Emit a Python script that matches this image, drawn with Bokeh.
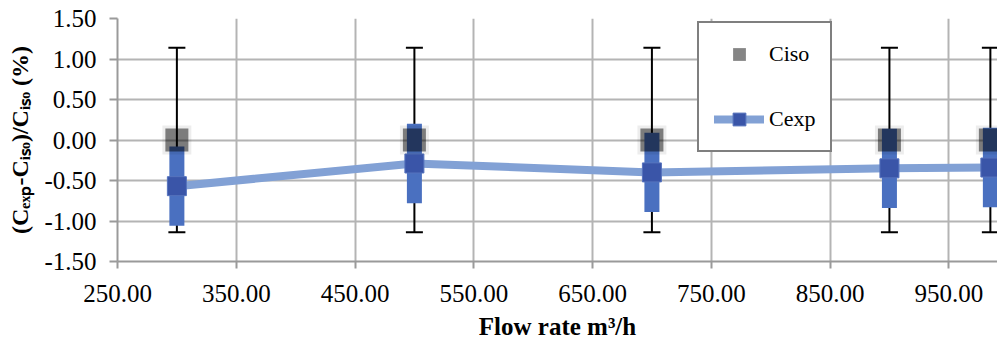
from bokeh.plotting import figure
from bokeh.models import Range1d, FixedTicker, PrintfTickFormatter, Legend, LegendItem
from bokeh.embed import file_html
from bokeh.resources import INLINE

# ---- data ----
flow = [300, 500, 700, 900, 985]
ciso = [0.00, 0.00, 0.00, 0.00, 0.00]
ciso_err = [1.14, 1.14, 1.14, 1.14, 1.14]
cexp = [-0.57, -0.29, -0.40, -0.35, -0.34]
cexp_err = [0.49, 0.49, 0.49, 0.49, 0.49]
x_ticks = [250, 350, 450, 550, 650, 750, 850, 950]
y_ticks = [-1.5, -1.0, -0.5, 0.0, 0.5, 1.0, 1.5]

FONT = "Liberation Serif"

p = figure(width=997, height=342, x_range=Range1d(250, 991), y_range=Range1d(-1.5, 1.5),
           output_backend="svg", toolbar_location=None,
           min_border_left=117, min_border_right=0, min_border_top=18, min_border_bottom=79)
p.outline_line_color = None
p.background_fill_color = "white"

for g in (p.xgrid, p.ygrid):
    g.grid_line_color = "#b4b4b4"
    g.grid_line_width = 2
p.xgrid.ticker = FixedTicker(ticks=x_ticks)
p.ygrid.ticker = FixedTicker(ticks=y_ticks)

for ax in (p.xaxis, p.yaxis):
    ax.axis_line_color = "#9a9a9a"
    ax.axis_line_width = 2
    ax.major_tick_line_color = "#9a9a9a"
    ax.major_tick_line_width = 2
    ax.minor_tick_line_color = None
    ax.major_tick_in = 0
    ax.formatter = PrintfTickFormatter(format="%.2f")
    ax.major_label_text_font = FONT
    ax.major_label_text_font_size = "25px"
    ax.major_label_text_color = "black"
    ax.axis_label_text_font = FONT
    ax.axis_label_text_font_style = "bold"
    ax.axis_label_text_font_size = "25px"
    ax.axis_label_text_color = "black"

p.xaxis.ticker = FixedTicker(ticks=x_ticks)
p.yaxis.ticker = FixedTicker(ticks=y_ticks)
p.xaxis.major_tick_out = 7
p.yaxis.major_tick_out = 8
p.xaxis.major_label_standoff = 16
p.yaxis.major_label_standoff = 13
p.xaxis.axis_label = "Flow rate m³/h"
p.yaxis.axis_label = "(Cₑₓₚ-Cᵢₛₒ)/Cᵢₛₒ (%)"
p.yaxis.axis_label_text_font_size = "24px"
p.xaxis.axis_label_standoff = 8
p.yaxis.axis_label_standoff = 8

# Ciso error bars (black whiskers)
lo_iso = [c - e for c, e in zip(ciso, ciso_err)]
hi_iso = [c + e for c, e in zip(ciso, ciso_err)]
p.segment(x0=flow, y0=lo_iso, x1=flow, y1=hi_iso, line_color="black", line_width=2)
p.scatter(flow, lo_iso, marker="dash", size=17, line_color="black", line_width=2)
p.scatter(flow, hi_iso, marker="dash", size=17, line_color="black", line_width=2)

# Cexp line
cexp_line = p.line(flow, cexp, line_color="#82a1d5", line_width=8, line_join="round", line_cap="round")

# Cexp error columns
lo_exp = [c - e for c, e in zip(cexp, cexp_err)]
hi_exp = [c + e for c, e in zip(cexp, cexp_err)]
p.segment(x0=flow, y0=lo_exp, x1=flow, y1=hi_exp, line_color="#4a70c0", line_width=15, line_cap="butt")

# Cexp markers
cexp_mk = p.scatter(flow, cexp, marker="square", size=19, fill_color="#3a55a8",
                    line_color="#5673bd", line_width=1)

# Ciso markers with soft glow
p.scatter(flow, ciso, marker="square", size=29, fill_color="black", fill_alpha=0.07, line_color=None)
ciso_mk = p.scatter(flow, ciso, marker="square", size=23, fill_color="black", fill_alpha=0.48,
                    line_color=None)

legend = Legend(items=[LegendItem(label="Ciso", renderers=[ciso_mk]),
                       LegendItem(label="Cexp", renderers=[cexp_line, cexp_mk])],
                location=(580, 109), orientation="vertical",
                padding=15, margin=0, spacing=33, glyph_width=50, glyph_height=32,
                label_height=32, label_standoff=5,
                label_text_font=FONT, label_text_font_size="22px", label_text_color="black",
                border_line_color="black", border_line_width=2,
                background_fill_color="white", background_fill_alpha=1.0)
p.add_layout(legend)

open("out.html", "w").write(file_html(p, INLINE))
